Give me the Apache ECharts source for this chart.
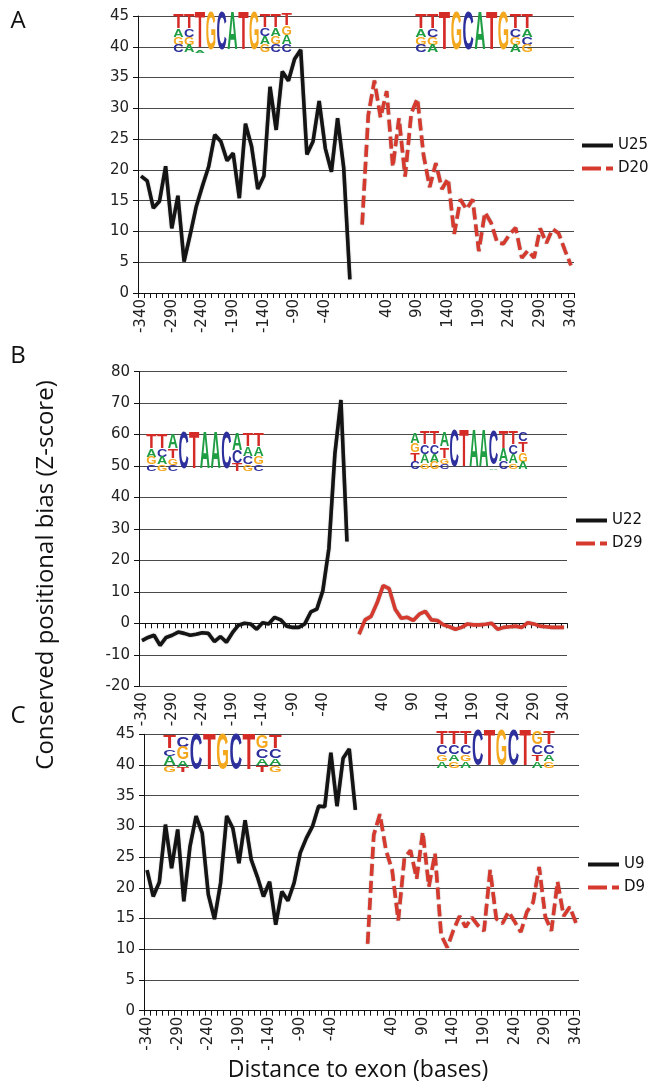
<!DOCTYPE html>
<html><head><meta charset="utf-8">
<script src="https://cdn.jsdelivr.net/npm/echarts@6/dist/echarts.min.js"></script>
<style>html,body{margin:0;padding:0;background:#fff}#c{width:650px;height:1087px}</style>
</head><body><div id="c"></div>
<script>
// ---- data ----
const categories = ['-340','-330','-320','-310','-300','-290','-280','-270','-260','-250','-240','-230','-220','-210','-200','-190','-180','-170','-160','-150','-140','-130','-120','-110','-100','-90','-80','-70','-60','-50','-40','-30','-20','-10','0','','0','10','20','30','40','50','60','70','80','90','100','110','120','130','140','150','160','170','180','190','200','210','220','230','240','250','260','270','280','290','300','310','320','330','340'];

const uA = [19.0,18.2,13.8,14.9,20.6,10.5,15.8,5.1,9.5,14.1,17.4,20.5,25.7,24.6,21.5,22.7,15.4,27.5,23.8,16.9,19.0,33.5,26.5,36.0,34.5,38.0,39.5,22.5,24.6,31.2,23.5,19.7,28.4,20.3,2.2];
const dA = [11.1,28.9,34.5,28.5,32.8,20.5,28.4,18.9,29.2,31.6,22.4,17.2,21.1,16.9,18.6,9.6,15.2,13.6,15.2,6.8,13.1,11.4,8.2,8.0,9.5,10.6,5.7,6.9,5.7,10.5,8.1,10.4,9.7,7.0,4.5];
const uB = [-5.5,-4.5,-3.8,-7.0,-4.5,-3.8,-2.8,-3.2,-3.8,-3.5,-3.0,-3.2,-5.8,-4.2,-6.0,-3.0,-0.6,0,-0.2,-1.9,0.2,-0.2,1.9,1.1,-0.9,-1.3,-1.3,-0.2,3.6,4.5,10.4,23.8,54,71,26];
const dB = [-3.5,1.1,2.2,6.5,12.0,11.0,4.5,1.6,1.9,0.9,2.9,3.8,1.1,0.9,-0.5,-1.1,-1.9,-1.3,-0.2,-0.5,-0.5,-0.3,0,-1.9,-1.3,-1.1,-0.9,-1.3,0.2,-0.2,-0.9,-1.1,-1.3,-1.3,-1.3];
const uC = [22.9,18.6,20.9,30.3,23.2,29.5,17.8,26.7,31.7,28.9,18.9,14.9,20.8,31.7,29.7,24.0,31.0,24.6,21.8,18.6,21.0,14.0,19.4,17.9,20.8,25.7,28.1,30.0,33.3,33.2,42.0,33.3,41.1,42.6,32.7];
const dC = [10.9,28.6,32.0,26.1,22.9,14.7,24.8,26.1,21.5,29.1,20.2,25.6,12.3,10.3,13.1,15.4,13.6,15.2,13.9,13.0,22.9,15.0,14.2,16.1,14.5,12.8,16.1,17.6,23.4,15.3,13.0,21.0,15.4,16.9,14.3];

const seriesNames = [['U25','D20'],['U22','D29'],['U9','D9']];
const panelLetters = ['A','B','C'];
const yTitle = 'Conserved positional bias (Z-score)';
const xTitle = 'Distance to exon (bases)';

// sequence logos: columns top->bottom [letter, fraction]
const logoCols = {
  A1: [[['T',.38],['A',.22],['G',.2],['C',.2]],[['T',.38],['C',.22],['G',.2],['A',.2]],[['T',.94],['A',.06]],[['G',1]],[['C',1]],[['A',1]],[['T',1]],[['G',1]],[['T',.36],['C',.22],['A',.22],['G',.2]],[['T',.36],['A',.22],['G',.22],['C',.2]],[['T',.3],['G',.25],['A',.25],['C',.2]]],
  A2: [[['T',.38],['A',.22],['G',.2],['C',.2]],[['T',.38],['C',.22],['G',.2],['A',.2]],[['T',1]],[['G',1]],[['C',1]],[['A',1]],[['T',1]],[['G',1]],[['T',.38],['C',.22],['G',.2],['A',.2]],[['T',.38],['A',.22],['C',.2],['G',.2]]],
  B1: [[['T',.4],['A',.22],['G',.2],['C',.18]],[['T',.4],['C',.22],['A',.2],['G',.18]],[['A',.4],['T',.25],['G',.18],['C',.17]],[['C',1]],[['T',1]],[['A',1]],[['A',1]],[['C',1]],[['A',.45],['C',.35],['T',.2]],[['T',.35],['A',.25],['C',.22],['G',.18]],[['T',.35],['A',.25],['G',.22],['C',.18]]],
  B2: [[['A',.3],['G',.25],['T',.25],['C',.2]],[['T',.35],['C',.25],['A',.25],['G',.15]],[['T',.35],['C',.25],['A',.2],['G',.2]],[['A',.4],['T',.3],['G',.15],['C',.15]],[['C',1]],[['T',1]],[['A',1]],[['A',1]],[['C',.95],['A',.05]],[['T',.45],['A',.35],['C',.2]],[['T',.35],['C',.25],['A',.25],['G',.15]],[['C',.25],['T',.3],['G',.25],['A',.2]]],
  C1: [[['T',.35],['C',.2],['A',.25],['G',.2]],[['C',.3],['G',.35],['A',.2],['T',.15]],[['C',1]],[['T',1]],[['G',1]],[['C',1]],[['T',1]],[['G',.35],['C',.25],['A',.2],['T',.2]],[['T',.35],['C',.25],['A',.2],['G',.2]]],
  C2: [[['T',.35],['C',.25],['G',.2],['A',.2]],[['T',.35],['C',.25],['A',.2],['G',.2]],[['T',.35],['C',.25],['G',.2],['A',.2]],[['C',1]],[['T',1]],[['G',1]],[['C',1]],[['T',1]],[['G',.35],['C',.25],['T',.2],['A',.2]],[['T',.35],['C',.25],['A',.2],['G',.2]]]
};

// ---- layout ----
const N = categories.length;
const padU = a => a.concat(new Array(N - a.length).fill(null));
const padD = a => new Array(N - a.length).fill(null).concat(a);
const BLACK = '#141414', RED = '#d63a2e';
const FONT = 'DejaVu Sans';
const grids = [
  {left:138, top:16, width:436, height:277},
  {left:139, top:371.7, width:428, height:314.5},
  {left:144, top:734.3, width:435, height:276.4}
];
const yRanges = [[0,45,5],[-20,80,10],[0,45,5]];
const legendPos = [[582,138],[576,513],[588,857]];
const logoBoxes = [
  ['A1',173,292,15,53],['A2',415,533,15,53],
  ['B1',146,264,435,472],['B2',410,528,433,470],
  ['C1',163,282,737,773],['C2',436,555,733,769]
];
const letterColor = {A:'#1f9e44', C:'#2d2f9c', G:'#f4a81d', T:'#d52b27'};
const ICON_SOLID = 'path://M0,0H31V4H0Z';
const ICON_DASH = 'path://M0,0H19V4H0Z M24,0H31V4H24Z';

const uData = [uA, uB, uC], dData = [dA, dB, dC];
const lineShadow = {shadowColor:'rgba(90,90,90,0.55)', shadowBlur:1.5};
const series = [];
for (let i = 0; i < 3; i++) {
  series.push({type:'line', name:seriesNames[i][0], xAxisIndex:i, yAxisIndex:i, data:padU(uData[i]),
    symbol:'none', lineStyle:Object.assign({color:BLACK, width:3.6}, lineShadow), itemStyle:{color:BLACK}, z:3});
  series.push({type:'line', name:seriesNames[i][1], xAxisIndex:i, yAxisIndex:i, data:padD(dData[i]),
    symbol:'none', lineStyle:Object.assign({color:RED, width:3.6, type: i === 1 ? 'solid' : [12,5]}, lineShadow), itemStyle:{color:RED}, z:3});
}

const option = {
  animation:false,
  textStyle:{fontFamily:FONT},
  grid: grids,
  xAxis: grids.map((g,i) => ({
    type:'category', gridIndex:i, data:categories, boundaryGap:true,
    axisLine:{onZero:true, lineStyle:{color:'#111', width:1}},
    axisTick:{show:true, interval:0, length:5, lineStyle:{color:'#111'}},
    axisLabel:{interval:4, rotate:90, fontSize:15, color:'#222', margin:6, fontFamily:FONT},
    splitLine:{show:false}
  })),
  yAxis: grids.map((g,i) => ({
    type:'value', gridIndex:i, min:yRanges[i][0], max:yRanges[i][1], interval:yRanges[i][2],
    axisLine:{show:true, lineStyle:{color:'#111', width:1}},
    axisTick:{show:true, length:5, lineStyle:{color:'#111'}},
    axisLabel:{fontSize:15, color:'#222', margin:9, fontFamily:FONT},
    splitLine:{show:true, lineStyle:{color:'#4a4a4a', width:1}}
  })),
  legend: seriesNames.map((names,i) => ({
    orient:'vertical', left:legendPos[i][0], top:legendPos[i][1], padding:0,
    itemWidth:31, itemHeight:14, itemGap:8, symbolKeepAspect:true,
    textStyle:{fontSize:15, color:'#111', fontFamily:FONT},
    data: [
      {name:names[0], icon:ICON_SOLID, itemStyle:{color:BLACK}},
      {name:names[1], icon:ICON_DASH, itemStyle:{color:RED}}
    ]
  })),
  series: series
};

const chart = echarts.init(document.getElementById('c'), null, {renderer:'canvas'});
chart.setOption(option);

// ---- graphic texts: titles, panel letters, logos ----
const graphics = [];
graphics.push({type:'text', x:46, y:575, rotation:Math.PI/2,
  style:{text:yTitle, font:'24px "Open Sans"', fill:'#111', align:'center', verticalAlign:'middle'}});
graphics.push({type:'text', x:358, y:1070,
  style:{text:xTitle, font:'23px "Open Sans"', fill:'#111', align:'center', verticalAlign:'middle'}});
const letterY = [21, 356, 716];
panelLetters.forEach((L,i) => graphics.push({type:'text', x:18, y:letterY[i],
  style:{text:L, font:'24px "Open Sans"', fill:'#111', align:'center', verticalAlign:'middle'}}));

const LF = 'bold 100px "Liberation Sans"';
const ctx = document.createElement('canvas').getContext('2d');
ctx.font = LF;
const CAP = 72;
logoBoxes.forEach(([key,x0,x1,y0,y1]) => {
  const cols = logoCols[key];
  const cw = (x1 - x0) / cols.length;
  cols.forEach((col, j) => {
    const cx = x0 + (j + 0.5) * cw;
    let yc = y0;
    col.forEach(([L, f]) => {
      const h = f * (y1 - y0);
      const w = ctx.measureText(L).width;
      graphics.push({type:'text', x:cx, y:yc + h/2, scaleX: cw*0.96/w, scaleY: h/CAP, z:10,
        style:{text:L, font:LF, fill:letterColor[L], align:'center', verticalAlign:'middle'}});
      yc += h;
    });
  });
});
chart.setOption({graphic: graphics});
</script>
</body></html>
